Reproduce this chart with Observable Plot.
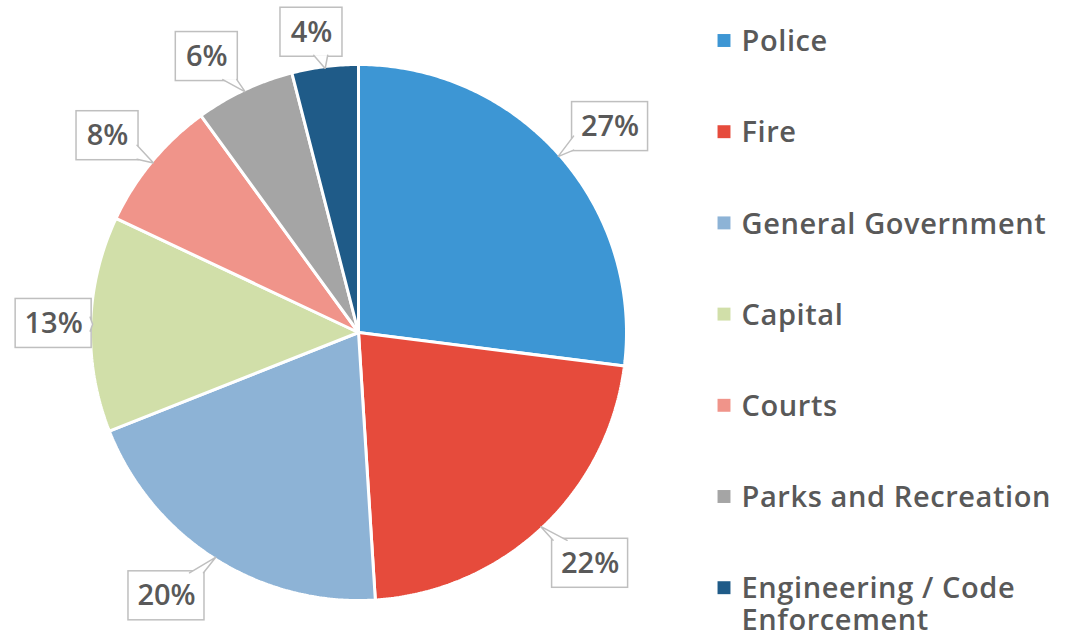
<!DOCTYPE html>
<html><head><meta charset="utf-8">
<script src="https://cdn.jsdelivr.net/npm/d3@7"></script>
<script src="https://cdn.jsdelivr.net/npm/@observablehq/plot@0.6"></script>
<style>body{margin:0;background:#fff;}</style>
</head><body><div id="chart"></div>
<script>
// ---- data ----
const categories = ["Police","Fire","General Government","Capital","Courts","Parks and Recreation","Engineering / Code Enforcement"];
const shares = [27,22,20,13,8,6,4];
const percentLabels = ["27%","22%","20%","13%","8%","6%","4%"];
const colors = ["#3d96d4","#e64b3c","#8db3d6","#d1dfa9","#f0948a","#a5a5a5","#1f5b88"];

// ---- layout ----
const W = 1073, H = 640, R = 268, CX = 358, CY = 332;
const labelDist = [1.213,1.22,1.216,1.138,1.19,1.175,1.134];
const labelAngleNudge = [2.1,-1.9,3.7,-0.1,-1.5,-3.6,-1.7]; // degrees
const FONT = "'Open Sans', sans-serif";
const TXT = "#595959";

const total = d3.sum(shares);
let acc = 0;
const slices = categories.map((c, i) => {
  const a0 = acc / total * 2 * Math.PI; acc += shares[i];
  const a1 = acc / total * 2 * Math.PI;
  return {c, i, a0, a1, mid: (a0 + a1) / 2};
});

// slice outlines (geometry from the data's angles)
const slicePts = [];
for (const s of slices) {
  slicePts.push({c: s.c, x: 0, y: 0});
  const n = Math.max(2, Math.ceil((s.a1 - s.a0) / 0.01));
  for (let k = 0; k <= n; k++) {
    const a = s.a0 + (s.a1 - s.a0) * k / n;
    slicePts.push({c: s.c, x: R * Math.sin(a), y: -R * Math.cos(a)});
  }
}

// callouts
const boxes = [], tails = [];
slices.forEach((s, i) => {
  const hw = percentLabels[i].length >= 3 ? 38 : 31, hh = 24.5;
  const la = s.mid + labelAngleNudge[i] * Math.PI / 180;
  const cx = labelDist[i] * R * Math.sin(la), cy = -labelDist[i] * R * Math.cos(la);
  const tx = (R - 2) * Math.sin(s.mid), ty = -(R - 2) * Math.cos(s.mid);
  boxes.push({i, x1: cx - hw, x2: cx + hw, y1: cy - hh, y2: cy + hh, cx, cy, label: percentLabels[i]});
  const dx = tx - cx, dy = ty - cy;
  const kx = Math.abs(dx) > 1e-6 ? hw / Math.abs(dx) : Infinity;
  const ky = Math.abs(dy) > 1e-6 ? hh / Math.abs(dy) : Infinity;
  let b1, b2;
  if (kx < ky) {
    const px = cx + dx * kx - Math.sign(dx) * 1.5, py = cy + dy * kx;
    const c = Math.max(cy - hh + 8, Math.min(cy + hh - 8, py));
    b1 = [px, c - 7]; b2 = [px, c + 7];
  } else {
    const px = cx + dx * ky, py = cy + dy * ky - Math.sign(dy) * 1.5;
    const c = Math.max(cx - hw + 8, Math.min(cx + hw - 8, px));
    b1 = [c - 7, py]; b2 = [c + 7, py];
  }
  tails.push({i, x: b1[0], y: b1[1]}, {i, x: tx, y: ty}, {i, x: b2[0], y: b2[1]});
});

// legend
const wrap = (t, max) => {
  const words = t.split(" "), lines = []; let cur = "";
  for (const w of words) {
    if (cur && (cur + " " + w).length > max) { lines.push(cur); cur = w; }
    else cur = cur ? cur + " " + w : w;
  }
  lines.push(cur); return lines.join("\n");
};
const legendRows = categories.map((c, i) => ({c, i, y: 40 + i * 91.2 - CY}));

const chart = Plot.plot({
  width: W, height: H,
  marginLeft: CX - R, marginRight: W - (CX + R), marginTop: CY - R, marginBottom: H - (CY + R),
  x: {domain: [-R, R], axis: null},
  y: {domain: [-R, R], axis: null, reverse: true},
  color: {domain: categories, range: colors},
  style: {fontFamily: FONT, background: "#fff"},
  marks: [
    Plot.line(slicePts, {x: "x", y: "y", z: "c", fill: "c", stroke: "#fff", strokeWidth: 3, curve: "linear-closed", strokeLinejoin: "miter"}),
    Plot.rect(boxes, {x1: "x1", x2: "x2", y1: "y1", y2: "y2", fill: "#fff", stroke: "#bfbfbf", strokeWidth: 1.5}),
    Plot.line(tails, {x: "x", y: "y", z: "i", fill: "#fff", stroke: "#bfbfbf", strokeWidth: 1.5, strokeLinejoin: "miter"}),
    Plot.text(boxes, {x: "cx", y: "cy", text: "label", fontSize: 29, fontWeight: 600, fill: TXT}),
    Plot.dot(legendRows, {x: 365.5, y: "y", symbol: "square", r: 7.3, fill: "c"}),
    Plot.text(legendRows, {x: 383, y: d => d.y - 12, text: d => wrap(d.c, 20), textAnchor: "start", lineAnchor: "top", lineHeight: 1.1, fontSize: 29, fontWeight: 600, fill: TXT})
  ]
});
d3.select(chart).selectAll('g[aria-label="text"]').filter((d, i, n) => i === n.length - 1).attr("letter-spacing", "0.6px");
document.getElementById("chart").appendChild(chart);
</script>
</body></html>
